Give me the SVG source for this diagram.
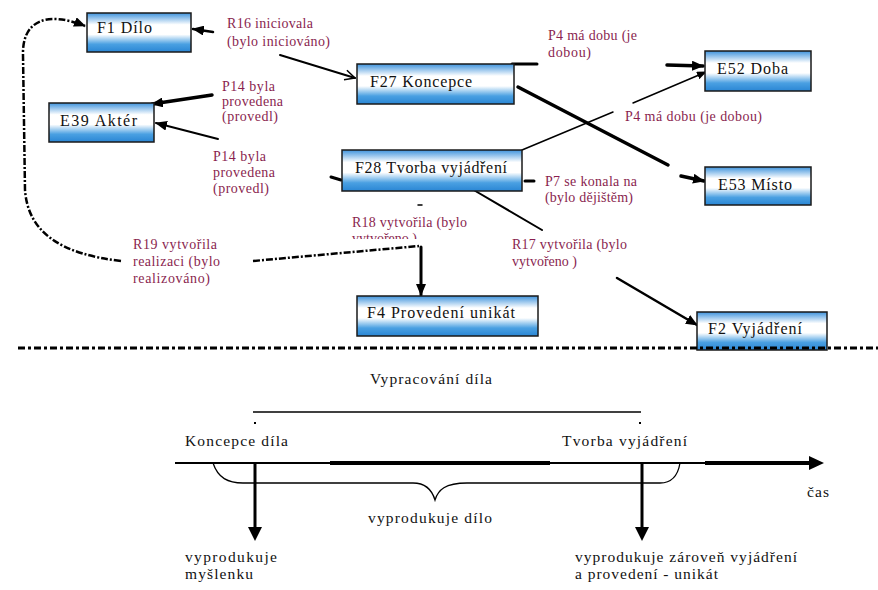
<svg xmlns="http://www.w3.org/2000/svg" width="878" height="590" viewBox="0 0 878 590">
<defs>
<linearGradient id="boxgrad" x1="0" y1="0" x2="0" y2="1">
<stop offset="0" stop-color="#3f93dc"/>
<stop offset="0.3" stop-color="#ffffff"/>
<stop offset="0.55" stop-color="#ffffff"/>
<stop offset="0.8" stop-color="#4aa0e2"/>
<stop offset="1" stop-color="#2a86d4"/>
</linearGradient>
<marker id="ah" markerUnits="userSpaceOnUse" markerWidth="12" markerHeight="10" refX="11" refY="5" orient="auto">
<path d="M0,0 L12,5 L0,10 z" fill="#000"/>
</marker>
<marker id="ahs" markerUnits="userSpaceOnUse" markerWidth="10" markerHeight="8" refX="9" refY="4" orient="auto">
<path d="M0,0 L10,4 L0,8 z" fill="#000"/>
</marker>
<marker id="aho" markerUnits="userSpaceOnUse" markerWidth="12" markerHeight="12" refX="11" refY="6" orient="auto">
<path d="M1,1 L11,6 L1,11" fill="none" stroke="#000" stroke-width="1.5"/>
</marker>
<clipPath id="r18clip"><rect x="340" y="228" width="140" height="11"/></clipPath>
</defs>
<style>
text{font-family:"Liberation Serif","DejaVu Serif","Times New Roman",serif}
.box{fill:url(#boxgrad);stroke:#1a1a1a;stroke-width:1.5}
.nt{font-size:16px;fill:#111}
.lb{font-size:14px;fill:#8a1f4f}
.bt{font-size:15.5px;fill:#111}
.ln{stroke:#000;fill:none;stroke-linecap:round}
.dd{stroke:#000;fill:none;stroke-dasharray:7 2 2 2}
</style>

<g id="labels" font-family="Liberation Serif, DejaVu Serif, serif">
<text class="lb" x="227" y="28" textLength="86">R16 iniciovala</text>
<text class="lb" x="227" y="46" textLength="103">(bylo iniciováno)</text>
<text class="lb" x="222" y="91" textLength="53">P14 byla</text>
<text class="lb" x="222" y="106" textLength="61">provedena</text>
<text class="lb" x="222" y="121" textLength="56">(provedl)</text>
<text class="lb" x="213" y="161" textLength="53">P14 byla</text>
<text class="lb" x="213" y="177" textLength="62">provedena</text>
<text class="lb" x="213" y="193" textLength="56">(provedl)</text>
<text class="lb" x="548" y="40" textLength="89">P4 má dobu (je</text>
<text class="lb" x="548" y="57" textLength="43">dobou)</text>
<text class="lb" x="625" y="121" textLength="137">P4 má dobu (je dobou)</text>
<text class="lb" x="545" y="186" textLength="92">P7 se konala na</text>
<text class="lb" x="545" y="202" textLength="88">(bylo dějištěm)</text>
<text class="lb" x="512" y="249" textLength="115">R17 vytvořila (bylo</text>
<text class="lb" x="512" y="266" textLength="65">vytvořeno )</text>
<text class="lb" x="352" y="227" textLength="115">R18 vytvořila (bylo</text>
<text class="lb" x="352" y="243" textLength="65" clip-path="url(#r18clip)">vytvořeno )</text>
<text class="lb" x="133" y="249" textLength="84">R19 vytvořila</text>
<text class="lb" x="133" y="266" textLength="87">realizaci (bylo</text>
<text class="lb" x="133" y="283" textLength="77">realizováno)</text>
</g>

<g id="connectors">
<line class="ln" x1="213" y1="32" x2="193" y2="29" stroke-width="2.5" marker-end="url(#ah)"/>
<line class="ln" x1="280" y1="55" x2="355" y2="78" stroke-width="2" marker-end="url(#aho)"/>
<line class="ln" x1="212" y1="95" x2="152" y2="104" stroke-width="3.5" marker-end="url(#ah)"/>
<line class="ln" x1="218" y1="139" x2="156" y2="123" stroke-width="2" marker-end="url(#ah)"/>
<line class="ln" x1="331" y1="177" x2="341" y2="180" stroke-width="3"/>
<line class="ln" x1="512" y1="64" x2="537" y2="64" stroke-width="3"/>
<line class="ln" x1="667" y1="65" x2="703" y2="66" stroke-width="3.5" marker-end="url(#ah)"/>
<line class="ln" x1="522" y1="150" x2="613" y2="112" stroke-width="1.5"/>
<line class="ln" x1="633" y1="103" x2="706" y2="72" stroke-width="1.5" marker-end="url(#ahs)"/>
<line class="ln" x1="518" y1="87" x2="668" y2="165" stroke-width="3.5"/>
<line class="ln" x1="681" y1="176" x2="704" y2="181" stroke-width="3.5" marker-end="url(#ah)"/>
<line class="ln" x1="525" y1="181" x2="534" y2="181" stroke-width="3"/>
<line class="ln" x1="472" y1="189" x2="542" y2="230" stroke-width="2"/>
<line class="ln" x1="617" y1="278" x2="697" y2="325" stroke-width="2.5" marker-end="url(#ah)"/>
<line class="ln" x1="418" y1="205" x2="422" y2="205" stroke-width="1.5"/>
<line class="ln" x1="421" y1="247" x2="421" y2="295" stroke-width="3" marker-end="url(#ah)"/>
<line class="dd" x1="253" y1="261" x2="419" y2="246" stroke-width="2.5"/>
<path class="dd" d="M121,261 C60,254 28,232 25,190 L23,55 C22,22 45,10 85,26" stroke-width="2.5" marker-end="url(#ah)"/>
</g>

<g id="n-f1"><rect class="box" x="87" y="13" width="104" height="39"/><text class="nt" x="97" y="33" textLength="55">F1 Dílo</text></g>
<g id="n-e39"><rect class="box" x="49" y="103" width="105" height="39"/><text class="nt" x="60" y="126" textLength="77">E39 Aktér</text></g>
<g id="n-f27"><rect class="box" x="357" y="64" width="157" height="40"/><text class="nt" x="370" y="87" textLength="102">F27 Koncepce</text></g>
<g id="n-f28"><rect class="box" x="342" y="150" width="180" height="41"/><text class="nt" x="355" y="173" textLength="152">F28 Tvorba vyjádření</text></g>
<g id="n-e52"><rect class="box" x="705" y="51" width="106" height="40"/><text class="nt" x="717" y="74" textLength="71">E52 Doba</text></g>
<g id="n-e53"><rect class="box" x="705" y="167" width="106" height="38"/><text class="nt" x="718" y="190" textLength="74">E53 Místo</text></g>
<g id="n-f4"><rect class="box" x="357" y="296" width="181" height="40"/><text class="nt" x="367" y="318" textLength="148">F4 Provedení unikát</text></g>
<g id="n-f2"><rect class="box" x="697" y="312" width="130" height="38"/><text class="nt" x="708" y="334" textLength="94">F2 Vyjádření</text></g>

<g id="separator">
<line x1="18" y1="348" x2="878" y2="348" stroke="#000" stroke-width="3" stroke-dasharray="7 3 3 3"/>
</g>

<g id="timeline">
<text class="bt" x="370" y="384" textLength="122">Vypracování díla</text>
<line x1="253" y1="412" x2="641" y2="412" stroke="#000" stroke-width="1.5"/>
<rect x="254" y="422" width="2" height="2" fill="#000"/>
<rect x="639" y="422" width="2" height="2" fill="#000"/>
<text class="bt" x="185" y="446" textLength="103">Koncepce díla</text>
<text class="bt" x="562" y="446" textLength="125">Tvorba vyjádření</text>
<line x1="175" y1="463" x2="812" y2="463" stroke="#000" stroke-width="2"/>
<line x1="330" y1="463" x2="550" y2="463" stroke="#000" stroke-width="4"/>
<line x1="705" y1="463" x2="812" y2="463" stroke="#000" stroke-width="4"/>
<path d="M809,456 L824,463 L809,470 z" fill="#000"/>
<text class="bt" x="807" y="497" textLength="22">čas</text>
<path d="M213,463 C218,478 228,483 243,483 L413,483 C425,483 432,490 435,500 C438,490 445,483 467,483 L660,483 C672,483 678,475 680,463" fill="none" stroke="#000" stroke-width="1.3"/>
<line x1="255" y1="463" x2="255" y2="528" stroke="#000" stroke-width="3"/>
<path d="M248,527 L262,527 L255,541 z" fill="#000"/>
<line x1="642" y1="463" x2="642" y2="528" stroke="#000" stroke-width="3"/>
<path d="M635,527 L649,527 L642,541 z" fill="#000"/>
<text class="bt" x="368" y="523" textLength="124">vyprodukuje dílo</text>
<text class="bt" x="185" y="562" textLength="92">vyprodukuje</text>
<text class="bt" x="185" y="579" textLength="68">myšlenku</text>
<text class="bt" x="575" y="562" textLength="222">vyprodukuje zároveň vyjádření</text>
<text class="bt" x="575" y="579" textLength="143">a provedení - unikát</text>
</g>
</svg>
